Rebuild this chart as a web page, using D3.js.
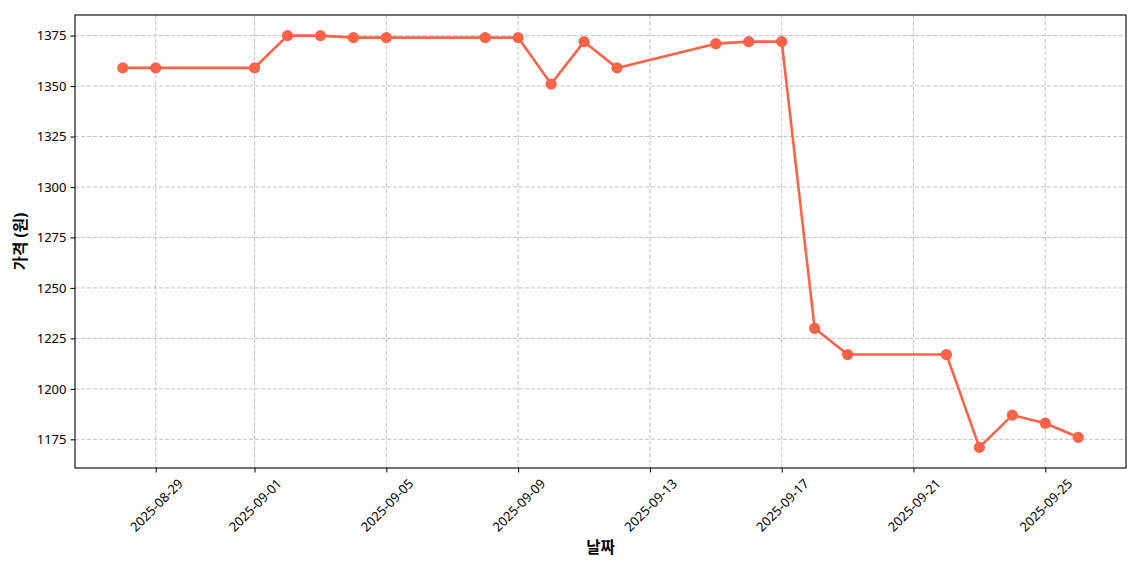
<!DOCTYPE html>
<html>
<head>
<meta charset="utf-8">
<script src="https://cdn.jsdelivr.net/npm/d3@7"></script>
<style>
  body { margin: 0; background: #fff; }
  text { font-family: "Noto Sans", "Noto Sans CJK KR", sans-serif; }
</style>
</head>
<body>
<div id="chart"></div>
<script>
// data
var dates = ["2025-08-28", "2025-08-29", "2025-09-01", "2025-09-02", "2025-09-03",
             "2025-09-04", "2025-09-05", "2025-09-08", "2025-09-09", "2025-09-10",
             "2025-09-11", "2025-09-12", "2025-09-15", "2025-09-16", "2025-09-17",
             "2025-09-18", "2025-09-19", "2025-09-22", "2025-09-23", "2025-09-24",
             "2025-09-25", "2025-09-26"];
var prices = [1359, 1359, 1359, 1375, 1375,
              1374, 1374, 1374, 1374, 1351,
              1372, 1359, 1371, 1372, 1372,
              1230, 1217, 1217, 1171, 1187,
              1183, 1176];
var xTickDates = ["2025-08-29", "2025-09-01", "2025-09-05", "2025-09-09",
                  "2025-09-13", "2025-09-17", "2025-09-21", "2025-09-25"];
var yTicks = [1175, 1200, 1225, 1250, 1275, 1300, 1325, 1350, 1375];

var xLabel = "날짜", yLabel = "가격 (원)";

// set the dimensions and margins of the graph
var W = 1140, H = 570;
var margin = {top: 15, right: 14, bottom: 102, left: 75},
    width = W - margin.left - margin.right,
    height = H - margin.top - margin.bottom;

var parse = d3.utcParse("%Y-%m-%d");
var data = dates.map(function(d, i) { return {date: parse(d), price: prices[i]}; });

var svg = d3.select("#chart")
  .append("svg")
    .attr("width", W)
    .attr("height", H)
  .append("g")
    .attr("transform", "translate(" + margin.left + "," + margin.top + ")");

// matplotlib-ish 5% padding
var xExt = d3.extent(data, function(d) { return +d.date; });
var xPad = (xExt[1] - xExt[0]) * 0.05;
var x = d3.scaleUtc()
  .domain([new Date(xExt[0] - xPad), new Date(xExt[1] + xPad)])
  .range([0, width]);

var yExt = d3.extent(prices);
var yPad = (yExt[1] - yExt[0]) * 0.05;
var y = d3.scaleLinear()
  .domain([yExt[0] - yPad, yExt[1] + yPad])
  .range([height, 0]);

var xTicks = xTickDates.map(parse);

// grid
svg.append("g")
  .selectAll("line")
  .data(xTicks)
  .enter()
  .append("line")
    .attr("x1", function(d) { return x(d); })
    .attr("x2", function(d) { return x(d); })
    .attr("y1", 0)
    .attr("y2", height)
    .attr("stroke", "#c4c4c4")
    .attr("stroke-width", 1)
    .attr("stroke-dasharray", "4,2");

svg.append("g")
  .selectAll("line")
  .data(yTicks)
  .enter()
  .append("line")
    .attr("x1", 0)
    .attr("x2", width)
    .attr("y1", function(d) { return y(d); })
    .attr("y2", function(d) { return y(d); })
    .attr("stroke", "#c4c4c4")
    .attr("stroke-width", 1)
    .attr("stroke-dasharray", "4,2");

// X axis
var gx = svg.append("g")
  .attr("transform", "translate(0," + height + ")")
  .call(d3.axisBottom(x).tickValues(xTicks).tickFormat(d3.utcFormat("%Y-%m-%d"))
        .tickSize(4.5).tickSizeOuter(0));
gx.select(".domain").remove();
gx.selectAll(".tick line").attr("stroke", "#000").attr("stroke-width", 1);
gx.selectAll(".tick text")
  .attr("y", 0)
  .attr("dy", null)
  .attr("text-anchor", "middle")
  .attr("dominant-baseline", "central")
  .attr("transform", "translate(0,37) rotate(-45)")
  .attr("font-size", "13px")
  .attr("fill", "#000");

// Y axis
var gy = svg.append("g")
  .call(d3.axisLeft(y).tickValues(yTicks).tickFormat(d3.format("d"))
        .tickSize(4.5).tickPadding(4).tickSizeOuter(0));
gy.select(".domain").remove();
gy.selectAll(".tick line").attr("stroke", "#000").attr("stroke-width", 1);
gy.selectAll(".tick text").attr("font-size", "13px").attr("fill", "#000");

// frame
svg.append("rect")
  .attr("width", width)
  .attr("height", height)
  .attr("fill", "none")
  .attr("stroke", "#000")
  .attr("stroke-width", 1.1);

// axis labels
svg.append("text")
  .attr("x", width / 2)
  .attr("y", height + 79)
  .attr("text-anchor", "middle")
  .attr("dominant-baseline", "central")
  .attr("font-family", "Noto Sans CJK KR")
  .attr("font-size", "15.5px")
  .attr("font-weight", "bold")
  .text(xLabel);

svg.append("text")
  .attr("transform", "translate(" + (-55) + "," + (height / 2) + ") rotate(-90)")
  .attr("text-anchor", "middle")
  .attr("dominant-baseline", "central")
  .attr("font-family", "Noto Sans CJK KR")
  .attr("font-size", "15.5px")
  .attr("font-weight", "bold")
  .text(yLabel);

// line
var line = d3.line()
  .x(function(d) { return x(d.date); })
  .y(function(d) { return y(d.price); });

svg.append("path")
  .datum(data)
  .attr("fill", "none")
  .attr("stroke", "#FF6347")
  .attr("stroke-width", 2.6)
  .attr("stroke-linejoin", "round")
  .attr("d", line);

// dots
svg.append("g")
  .selectAll("circle")
  .data(data)
  .enter()
  .append("circle")
    .attr("cx", function(d) { return x(d.date); })
    .attr("cy", function(d) { return y(d.price); })
    .attr("r", 5.6)
    .attr("fill", "#FF6347");
</script>
</body>
</html>
